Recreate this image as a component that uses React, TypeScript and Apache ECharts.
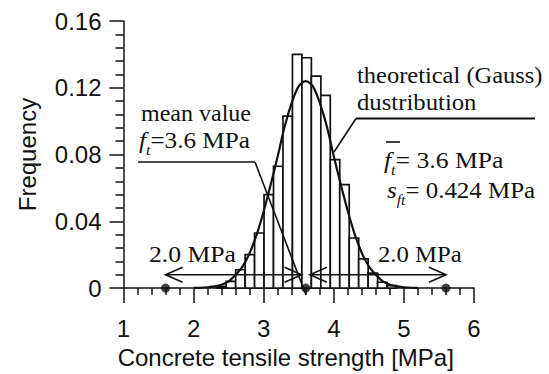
import React, { useEffect, useRef } from "react";
import * as echarts from "echarts";

// ---- data ----
const binWidth = 0.135;
const binLeft = [2.33, 2.465, 2.6, 2.735, 2.87, 3.005, 3.14, 3.275, 3.41, 3.545, 3.68, 3.815, 3.95, 4.085, 4.22, 4.355, 4.49, 4.625, 4.76];
const binFreq = [0.001, 0.004, 0.011, 0.02, 0.033, 0.056, 0.073, 0.103, 0.14, 0.138, 0.127, 0.1155, 0.077, 0.062, 0.03, 0.0175, 0.009, 0.0035, 0.0015];

const gaussX = [2.0, 2.1, 2.2, 2.3, 2.4, 2.5, 2.6, 2.7, 2.8, 2.9, 3.0, 3.1, 3.2, 3.3, 3.4, 3.5, 3.6, 3.7, 3.8, 3.9, 4.0, 4.1, 4.2, 4.3, 4.4, 4.5, 4.6, 4.7, 4.8, 4.9, 5.0, 5.1, 5.2];
const gaussY = [0.0001, 0.0002, 0.0005, 0.001, 0.002, 0.004, 0.008, 0.013, 0.021, 0.032, 0.046, 0.062, 0.079, 0.097, 0.111, 0.121, 0.124, 0.121, 0.111, 0.097, 0.079, 0.062, 0.046, 0.032, 0.021, 0.013, 0.008, 0.004, 0.002, 0.001, 0.0005, 0.0002, 0.0001];

// arrows: [from, to, level]
const arrowFrom = [1.6, 3.66];
const arrowTo = [3.54, 5.6];
const arrowLevel = [0.008, 0.008];

const markerX = [1.6, 3.6, 5.6];
const markerY = [0, 0, 0];

const xTicks = { min: 1, max: 6, interval: 1 };
const yTicks = { min: 0, max: 0.16, interval: 0.04 };

const INK = "#111";
const SERIF = "Liberation Serif";
const SANS = "Liberation Sans";

const rich = {
  i: { fontFamily: SERIF, fontSize: 24, fontStyle: "italic", color: INK, lineHeight: 34 },
  n: { fontFamily: SERIF, fontSize: 24, color: INK, lineHeight: 34 },
  sub: { fontFamily: SERIF, fontSize: 15, fontStyle: "italic", color: INK, lineHeight: 15, verticalAlign: "bottom" },
};

function txt(text: string, x: number, y: number, sx = 1.05) {
  return {
    type: "text",
    x,
    y,
    scaleX: sx,
    silent: true,
    z: 20,
    style: {
      text,
      fontFamily: SERIF,
      fontSize: 24,
      fill: INK,
      align: "left",
      verticalAlign: "middle",
      rich,
    },
  };
}

function seg(x1: number, y1: number, x2: number, y2: number, color = INK, w = 1.6) {
  return {
    type: "line",
    silent: true,
    z: 30,
    shape: { x1, y1, x2, y2 },
    style: { stroke: color, lineWidth: w },
  };
}

export default function App() {
  const ref = useRef<HTMLDivElement>(null);

  useEffect(() => {
    if (!ref.current) return;
    const chart = echarts.init(ref.current, undefined, { renderer: "svg" });

    const option: any = {
      animation: false,
      backgroundColor: "#fff",
      grid: { left: 123.5, right: 75, top: 21, bottom: 77, containLabel: false },
      xAxis: {
        type: "value",
        min: xTicks.min,
        max: xTicks.max,
        interval: xTicks.interval,
        name: "Concrete tensile strength [MPa]",
        nameLocation: "middle",
        nameGap: 50,
        nameTextStyle: { fontFamily: SANS, fontSize: 24, color: INK, padding: [0, 26, 0, 0] },
        axisLine: { show: true, onZero: false, lineStyle: { color: INK, width: 1.5 } },
        axisTick: { show: true, length: 15, lineStyle: { color: INK, width: 1.5 } },
        minorTick: { show: true, splitNumber: 5, length: 7, lineStyle: { color: INK, width: 1.5 } },
        axisLabel: { fontFamily: SANS, fontSize: 24, color: INK, margin: 28 },
        splitLine: { show: false },
      },
      yAxis: {
        type: "value",
        min: yTicks.min,
        max: yTicks.max,
        interval: yTicks.interval,
        name: "Frequency",
        nameLocation: "middle",
        nameGap: 84,
        nameTextStyle: { fontFamily: SANS, fontSize: 24, color: INK },
        axisLine: { show: true, onZero: false, lineStyle: { color: INK, width: 1.5 } },
        axisTick: { show: true, length: 14, lineStyle: { color: INK, width: 1.5 } },
        minorTick: { show: true, splitNumber: 5, length: 8, lineStyle: { color: INK, width: 1.5 } },
        axisLabel: {
          fontFamily: SANS,
          fontSize: 24,
          color: INK,
          margin: 22,
          formatter: (v: number) => (v === 0 ? "0" : v.toFixed(2)),
        },
        splitLine: { show: false },
      },
      series: [
        {
          type: "custom",
          name: "histogram",
          z: 2,
          data: binLeft.map((l, i) => [l, binFreq[i]]),
          encode: { x: 0, y: 1 },
          renderItem: (params: any, api: any) => {
            const l = api.value(0);
            const h = api.value(1);
            const p0 = api.coord([l, h]);
            const p1 = api.coord([l + binWidth, 0]);
            return {
              type: "rect",
              shape: { x: p0[0], y: p0[1], width: p1[0] - p0[0], height: p1[1] - p0[1] },
              style: { fill: "#fff", stroke: INK, lineWidth: 1.7 },
            };
          },
        },
        {
          type: "line",
          name: "theoretical (Gauss) distribution",
          z: 4,
          data: gaussX.map((x, i) => [x, gaussY[i]]),
          smooth: 0.3,
          showSymbol: false,
          symbol: "none",
          lineStyle: { color: INK, width: 2.2 },
        },
        {
          type: "custom",
          name: "arrows",
          z: 5,
          data: arrowFrom.map((f, i) => [f, arrowTo[i], arrowLevel[i]]),
          encode: { x: [0, 1], y: 2 },
          renderItem: (params: any, api: any) => {
            const a = api.coord([api.value(0), api.value(2)]);
            const b = api.coord([api.value(1), api.value(2)]);
            const hw = 17;
            const hh = 7.5;
            const st = { stroke: INK, lineWidth: 1.6, fill: "none" };
            return {
              type: "group",
              children: [
                { type: "line", shape: { x1: a[0], y1: a[1], x2: b[0], y2: b[1] }, style: st },
                { type: "polyline", shape: { points: [[a[0] + hw, a[1] - hh], [a[0], a[1]], [a[0] + hw, a[1] + hh]] }, style: st },
                { type: "polyline", shape: { points: [[b[0] - hw, b[1] - hh], [b[0], b[1]], [b[0] - hw, b[1] + hh]] }, style: st },
              ],
            };
          },
        },
        {
          type: "scatter",
          name: "markers",
          z: 6,
          data: markerX.map((x, i) => [x, markerY[i]]),
          symbol: "circle",
          symbolSize: 9,
          itemStyle: { color: INK },
        },
      ],
      graphic: [
        // mean value annotation
        txt("mean value", 141, 113, 1.0),
        txt("{i|f}{sub|t}{n|=3.6 MPa}", 139, 140),
        seg(138, 162, 255, 162),
        seg(255, 162, 306, 295),
        // theoretical annotation
        txt("theoretical (Gauss)", 357, 75, 1.02),
        txt("dustribution", 357, 102, 1.03),
        seg(356, 118.5, 535, 118.5, INK, 1.8),
        seg(356, 118.5, 334, 152),
        txt("{i|f}{sub|t}{n|= 3.6 MPa}", 384, 160, 1.07),
        seg(386, 142, 400, 142),
        txt("{i|s}{sub|ft}{n|= 0.424 MPa}", 387, 190, 1.04),
        // 2.0 MPa labels
        txt("2.0 MPa", 149, 254, 1.07),
        txt("2.0 MPa", 378, 254, 1.03),
      ],
    };

    chart.setOption(option);
    return () => chart.dispose();
  }, []);

  return (
    <div
      ref={ref}
      style={{ position: "absolute", left: 0, top: 0, width: 549, height: 374, background: "#fff" }}
    />
  );
}
